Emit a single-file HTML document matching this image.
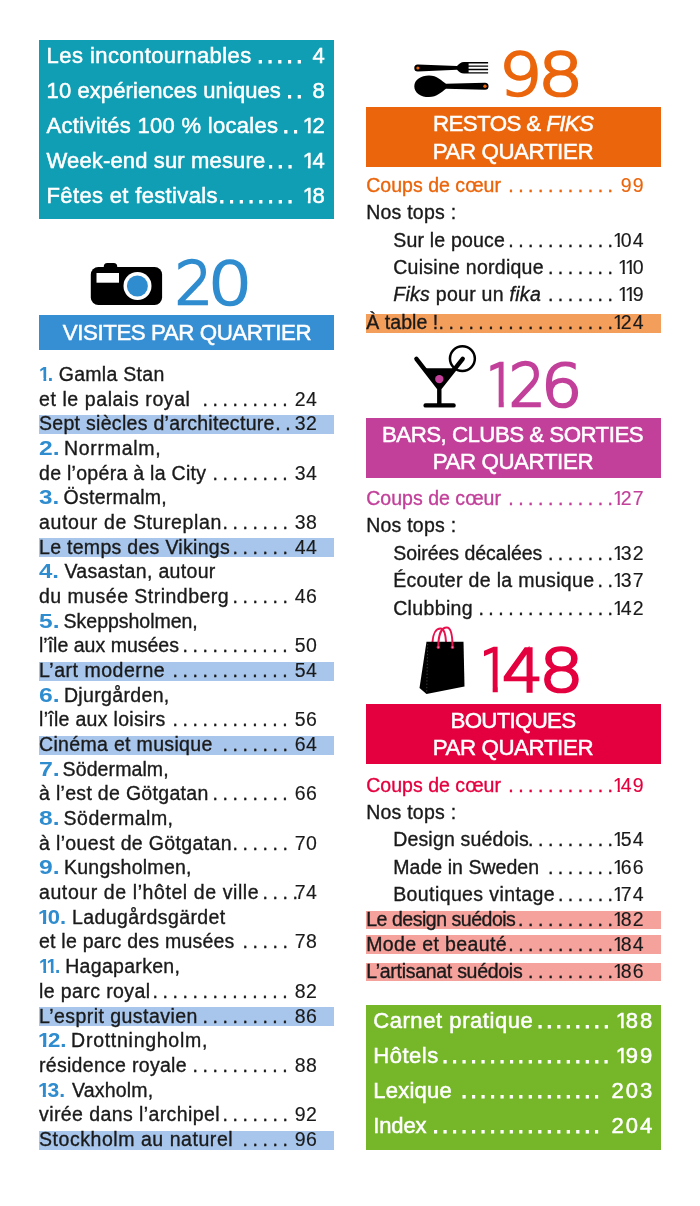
<!DOCTYPE html>
<html lang="fr"><head><meta charset="utf-8"><title>Sommaire</title>
<style>
html,body{margin:0;padding:0;background:#fff}
body{width:700px;height:1206px;position:relative;overflow:hidden;font-family:"Liberation Sans", sans-serif;color:#1a1a1a;-webkit-text-stroke:0.35px currentColor}
.abs,.box,.tx{position:absolute}
.tx{white-space:nowrap;margin:0}
.L,.R{font-size:19.5px;line-height:24px;height:24px}
.B{font-size:22.300px;line-height:28px;height:28px;color:#fff;-webkit-text-stroke:.5px #fff}
.T{font-size:22px;line-height:28px;height:28px;color:#fff;-webkit-text-stroke:.5px #fff}
.T.dt{-webkit-text-stroke:1px #fff}
.o,.ob{display:inline-block;line-height:1.2em;letter-spacing:0;vertical-align:baseline}
.o{width:.36em;text-indent:-.04em;clip-path:polygon(0 0,100% 0,100% .8em,.315em .8em,.315em 100%,.196em 100%,.196em .8em,0 .8em)}
.T .o{margin-right:.05em}
.ob{width:.40em;text-indent:-.05em;clip-path:polygon(0 0,100% 0,100% .78em,.325em .78em,.325em 100%,.18em 100%,.18em .78em,0 .78em)}
.nb{color:#2e8ccf;font-weight:bold;-webkit-text-stroke:0;transform-origin:0 50%}
.ban{position:absolute;color:#fff;text-align:center;white-space:nowrap}
.big{position:absolute;white-space:nowrap;font-family:"DejaVu Sans Light","DejaVu Sans",sans-serif;font-weight:200;font-size:59.3px;line-height:59.3px;height:59.3px;-webkit-text-stroke:2.6px currentColor;transform-origin:0 0;display:block}
</style></head><body>
<div class="box" style="left:39px;top:40px;width:295.200px;height:179px;background:#109eb4"></div>
<div class="box" style="left:39px;top:414.9px;width:295.200px;height:19px;background:#a8c6eb"></div>
<div class="box" style="left:39px;top:538.3px;width:295.200px;height:19px;background:#a8c6eb"></div>
<div class="box" style="left:39px;top:661.7px;width:295.200px;height:19px;background:#a8c6eb"></div>
<div class="box" style="left:39px;top:735.8px;width:295.200px;height:19px;background:#a8c6eb"></div>
<div class="box" style="left:39px;top:1007.2px;width:295.200px;height:19px;background:#a8c6eb"></div>
<div class="box" style="left:39px;top:1130.6px;width:295.200px;height:19px;background:#a8c6eb"></div>
<div class="box" style="left:366px;top:313.9px;width:295px;height:18.9px;background:#f49e5c"></div>
<div class="box" style="left:366px;top:910.7px;width:295px;height:18.5px;background:#f5a29c"></div>
<div class="box" style="left:366px;top:935.3px;width:295px;height:18.5px;background:#f5a29c"></div>
<div class="box" style="left:366px;top:962.6px;width:295px;height:18.8px;background:#f5a29c"></div>
<div class="box" style="left:365.600px;top:1005.100px;width:295.600px;height:144.600px;background:#76b72a"></div>
<div class="box" style="left:39px;top:315.3px;width:295.2px;height:34.8px;background:#378fd3"></div>
<div class="box" style="left:365.7px;top:107.1px;width:295.4px;height:60px;background:#ea650b"></div>
<div class="box" style="left:365.7px;top:417.9px;width:295.4px;height:59.7px;background:#c2409a"></div>
<div class="box" style="left:365.7px;top:703.6px;width:295.4px;height:60px;background:#e4003f"></div>
<span class="big" style="left:174.51px;top:253.83px;color:#2e8ccf;transform:scaleX(0.994);">2</span>
<span class="big" style="left:208.21px;top:253.83px;color:#2e8ccf;transform:scaleX(1.172);">0</span>
<span class="big" style="left:499.20px;top:44.73px;color:#ea650b;transform:scaleX(1.142);">9</span>
<span class="big" style="left:537.75px;top:44.73px;color:#ea650b;transform:scaleX(1.202);">8</span>
<span class="big" style="left:482.87px;top:356.13px;color:#c2409a;transform:scaleX(0.920);clip-path:polygon(7.96px 0,calc(.358em + 1.35px) 0,calc(.358em + 1.35px) 100%,calc(.31em - 1.35px) 100%,calc(.31em - 1.35px) .77em,7.96px .77em);">1</span>
<span class="big" style="left:508.70px;top:356.13px;color:#c2409a;transform:scaleX(0.961);">2</span>
<span class="big" style="left:541.11px;top:356.13px;color:#c2409a;transform:scaleX(1.095);">6</span>
<span class="big" style="left:477.07px;top:641.43px;color:#e4003f;transform:scaleX(0.920);clip-path:polygon(7.64px 0,calc(.358em + 1.35px) 0,calc(.358em + 1.35px) 100%,calc(.31em - 1.35px) 100%,calc(.31em - 1.35px) .77em,7.64px .77em);">1</span>
<span class="big" style="left:502.06px;top:641.43px;color:#e4003f;transform:scaleX(1.089);">4</span>
<span class="big" style="left:539.01px;top:641.43px;color:#e4003f;transform:scaleX(1.188);">8</span>
<svg class="abs" style="left:88px;top:258px" width="80" height="52" viewBox="88 258 80 52">
<path d="M103.800 269 v-2.600 q0-3.500 3.500-3.500 h6.400 q3.500 0 3.500 3.500 v2.600 z" fill="#000"/>
<rect x="90.800" y="267.100" width="71.300" height="37.900" rx="7.500" fill="#000"/>
<rect x="96.500" y="273" width="22.500" height="9.700" fill="#fff"/>
<circle cx="137.500" cy="286" r="14" fill="#fff"/>
<circle cx="137.400" cy="286" r="10.500" fill="#2e8ccf"/>
</svg>
<svg class="abs" style="left:410px;top:55px" width="84" height="48" viewBox="410 55 84 48">
<path d="M417.800 64.400 L457 66.100 C459 64 461 62.100 464 62.100 H488.100 V63.500 H468.600 V65.400 H488.100 V66.800 H468.600 V68.800 H488.100 V70.200 H468.600 V72.200 H488.100 V73.600 H464 C461 73.600 459 71.800 457 69.700 L417.800 71.500 A3.550 3.550 0 0 1 417.800 64.400 Z" fill="#000"/>
<circle cx="417.900" cy="68" r="1.600" fill="#ea650b"/>
<path d="M414.300 86.200 C414.300 79.500 421 75.400 429 75.400 C437 75.400 441.500 80.500 446 83.700 L485 82.700 A3.550 3.550 0 0 1 485 89.800 L446 88.800 C441.500 92 437 97.100 429 97.100 C421 97.100 414.300 93 414.300 86.200 Z" fill="#000"/>
<circle cx="485" cy="86.200" r="1.700" fill="#ea650b"/>
</svg>
<svg class="abs" style="left:410px;top:340px" width="72" height="72" viewBox="410 340 72 72">
<circle cx="462.400" cy="358.600" r="12.450" fill="#fff" stroke="#000" stroke-width="2.500"/>
<path d="M424.300 368.300 h30.200 l-15.200 19z" fill="#000"/>
<path d="M416.400 358.800 L439.300 388.300 L462.700 358.800 M439.300 388 V404 M425.600 405.400 H453.600" fill="none" stroke="#000" stroke-width="4.400" stroke-linecap="round" stroke-linejoin="round"/>
<circle cx="439.300" cy="379.100" r="4.200" fill="#c2409a"/>
</svg>
<svg class="abs" style="left:414px;top:622px" width="60" height="76" viewBox="414 622 60 76">
<path d="M432.500 642 C433 634 436 628.600 440.500 628.600 C444 628.600 445.500 634 446 642" stroke="#e8114e" stroke-width="2" fill="none"/>
<path d="M426.500 641.800 H463.500 L464.500 686.500 L426.500 694 L419.500 688z" fill="#000"/>
<path d="M427.700 644 L426.700 692" stroke="#444" stroke-width=".9" stroke-dasharray="1.300 2" fill="none"/>
<path d="M438.300 647 C438.300 636 441 627.600 446.800 627.600 C451.500 627.600 452.500 637 452.500 647" stroke="#e8114e" stroke-width="2" fill="none"/>
<circle cx="438.300" cy="647.200" r="1.300" fill="#f7a" stroke="#e8114e" stroke-width=".9"/>
<circle cx="452.500" cy="647.200" r="1.300" fill="#f7a" stroke="#e8114e" stroke-width=".9"/>
</svg>
<div class="tx T" style="left:46.6px;top:41.8px;letter-spacing:0.43px;">Les incontournables</div>
<div class="tx T dt" style="left:257.3px;top:41.8px;letter-spacing:3.64px;">.....</div>
<div class="tx T" style="right:375.2px;top:41.8px;letter-spacing:2.09px;margin-right:-2.09px;">4</div>
<div class="tx T" style="left:46.6px;top:76.8px;letter-spacing:0.09px;">10 expériences uniques</div>
<div class="tx T dt" style="left:286.6px;top:76.8px;letter-spacing:3.64px;">..</div>
<div class="tx T" style="right:375.2px;top:76.8px;letter-spacing:2.09px;margin-right:-2.09px;">8</div>
<div class="tx T" style="left:46.6px;top:111.9px;letter-spacing:0.29px;">Activités 100 % locales</div>
<div class="tx T dt" style="left:282.7px;top:111.9px;letter-spacing:3.64px;">..</div>
<div class="tx T" style="right:375.2px;top:111.9px;letter-spacing:2.09px;margin-right:-2.09px;"><span class="o">1</span>2</div>
<div class="tx T" style="left:46.6px;top:146.9px;letter-spacing:0.14px;">Week-end sur mesure</div>
<div class="tx T dt" style="left:267.6px;top:146.9px;letter-spacing:3.64px;">...</div>
<div class="tx T" style="right:375.2px;top:146.9px;letter-spacing:2.09px;margin-right:-2.09px;"><span class="o">1</span>4</div>
<div class="tx T" style="left:46.6px;top:182.0px;letter-spacing:0.34px;">Fêtes et festivals</div>
<div class="tx T dt" style="left:218.8px;top:182.0px;letter-spacing:3.64px;">........</div>
<div class="tx T" style="right:375.2px;top:182.0px;letter-spacing:2.09px;margin-right:-2.09px;"><span class="o">1</span>8</div>
<div class="tx L nb" style="left:39.5px;top:361.8px;transform:scaleX(0.989);"><span class="ob">1</span>.</div>
<div class="tx L" style="left:58.7px;top:361.8px;letter-spacing:0.29px;">Gamla Stan</div>
<div class="tx L" style="left:39.0px;top:386.5px;letter-spacing:0.59px;">et le palais royal</div>
<div class="tx L dt" style="left:202.4px;top:386.5px;letter-spacing:4.58px;">.........</div>
<div class="tx L" style="right:383.1px;top:386.5px;letter-spacing:0.39px;margin-right:-0.39px;-webkit-text-stroke-width:.15px;">24</div>
<div class="tx L" style="left:39.0px;top:411.2px;letter-spacing:0.30px;">Sept siècles d’architecture</div>
<div class="tx L dt" style="left:275.3px;top:411.2px;letter-spacing:4.58px;">..</div>
<div class="tx L" style="right:383.1px;top:411.2px;letter-spacing:0.39px;margin-right:-0.39px;-webkit-text-stroke-width:.15px;">32</div>
<div class="tx L nb" style="left:38.9px;top:435.8px;transform:scaleX(1.264);">2.</div>
<div class="tx L" style="left:63.9px;top:435.8px;letter-spacing:0.73px;">Norrmalm,</div>
<div class="tx L" style="left:39.0px;top:460.5px;letter-spacing:0.29px;">de l’opéra à la City</div>
<div class="tx L dt" style="left:212.4px;top:460.5px;letter-spacing:4.58px;">........</div>
<div class="tx L" style="right:383.1px;top:460.5px;letter-spacing:0.39px;margin-right:-0.39px;-webkit-text-stroke-width:.15px;">34</div>
<div class="tx L nb" style="left:39.2px;top:485.2px;transform:scaleX(1.244);">3.</div>
<div class="tx L" style="left:63.6px;top:485.2px;letter-spacing:0.27px;">Östermalm,</div>
<div class="tx L" style="left:39.0px;top:509.9px;letter-spacing:0.61px;">autour de Stureplan</div>
<div class="tx L dt" style="left:222.4px;top:509.9px;letter-spacing:4.58px;">.......</div>
<div class="tx L" style="right:383.1px;top:509.9px;letter-spacing:0.39px;margin-right:-0.39px;-webkit-text-stroke-width:.15px;">38</div>
<div class="tx L" style="left:39.0px;top:534.6px;letter-spacing:0.30px;">Le temps des Vikings</div>
<div class="tx L dt" style="left:232.4px;top:534.6px;letter-spacing:4.58px;">......</div>
<div class="tx L" style="right:383.1px;top:534.6px;letter-spacing:0.39px;margin-right:-0.39px;-webkit-text-stroke-width:.15px;">44</div>
<div class="tx L nb" style="left:39.4px;top:559.2px;transform:scaleX(1.231);">4.</div>
<div class="tx L" style="left:64.4px;top:559.2px;letter-spacing:0.33px;">Vasastan, autour</div>
<div class="tx L" style="left:39.0px;top:583.9px;letter-spacing:0.48px;">du musée Strindberg</div>
<div class="tx L dt" style="left:232.4px;top:583.9px;letter-spacing:4.58px;">......</div>
<div class="tx L" style="right:383.1px;top:583.9px;letter-spacing:0.39px;margin-right:-0.39px;-webkit-text-stroke-width:.15px;">46</div>
<div class="tx L nb" style="left:39.0px;top:608.6px;transform:scaleX(1.257);">5.</div>
<div class="tx L" style="left:63.6px;top:608.6px;letter-spacing:-0.02px;">Skeppsholmen,</div>
<div class="tx L" style="left:39.0px;top:633.3px;letter-spacing:0.01px;">l’île aux musées</div>
<div class="tx L dt" style="left:182.4px;top:633.3px;letter-spacing:4.58px;">...........</div>
<div class="tx L" style="right:383.1px;top:633.3px;letter-spacing:0.39px;margin-right:-0.39px;-webkit-text-stroke-width:.15px;">50</div>
<div class="tx L" style="left:39.0px;top:658.0px;letter-spacing:0.53px;">L’art moderne</div>
<div class="tx L dt" style="left:172.4px;top:658.0px;letter-spacing:4.58px;">............</div>
<div class="tx L" style="right:383.1px;top:658.0px;letter-spacing:0.39px;margin-right:-0.39px;-webkit-text-stroke-width:.15px;">54</div>
<div class="tx L nb" style="left:38.9px;top:682.6px;transform:scaleX(1.267);">6.</div>
<div class="tx L" style="left:63.9px;top:682.6px;letter-spacing:0.35px;">Djurgården,</div>
<div class="tx L" style="left:39.0px;top:707.3px;letter-spacing:0.30px;">l’île aux loisirs</div>
<div class="tx L dt" style="left:172.4px;top:707.3px;letter-spacing:4.58px;">............</div>
<div class="tx L" style="right:383.1px;top:707.3px;letter-spacing:0.39px;margin-right:-0.39px;-webkit-text-stroke-width:.15px;">56</div>
<div class="tx L" style="left:39.0px;top:732.0px;letter-spacing:0.33px;">Cinéma et musique</div>
<div class="tx L dt" style="left:222.4px;top:732.0px;letter-spacing:4.58px;">.......</div>
<div class="tx L" style="right:383.1px;top:732.0px;letter-spacing:0.39px;margin-right:-0.39px;-webkit-text-stroke-width:.15px;">64</div>
<div class="tx L nb" style="left:38.7px;top:756.7px;transform:scaleX(1.278);">7.</div>
<div class="tx L" style="left:62.6px;top:756.7px;letter-spacing:0.10px;">Södermalm,</div>
<div class="tx L" style="left:39.0px;top:781.4px;letter-spacing:0.31px;">à l’est de Götgatan</div>
<div class="tx L dt" style="left:212.4px;top:781.4px;letter-spacing:4.58px;">........</div>
<div class="tx L" style="right:383.1px;top:781.4px;letter-spacing:0.39px;margin-right:-0.39px;-webkit-text-stroke-width:.15px;">66</div>
<div class="tx L nb" style="left:39.0px;top:806.0px;transform:scaleX(1.259);">8.</div>
<div class="tx L" style="left:63.6px;top:806.0px;letter-spacing:0.48px;">Södermalm,</div>
<div class="tx L" style="left:39.0px;top:830.7px;letter-spacing:0.36px;">à l’ouest de Götgatan</div>
<div class="tx L dt" style="left:232.4px;top:830.7px;letter-spacing:4.58px;">......</div>
<div class="tx L" style="right:383.1px;top:830.7px;letter-spacing:0.39px;margin-right:-0.39px;-webkit-text-stroke-width:.15px;">70</div>
<div class="tx L nb" style="left:38.9px;top:855.4px;transform:scaleX(1.264);">9.</div>
<div class="tx L" style="left:63.9px;top:855.4px;letter-spacing:0.27px;">Kungsholmen,</div>
<div class="tx L" style="left:39.0px;top:880.1px;letter-spacing:0.59px;">autour de l’hôtel de ville</div>
<div class="tx L dt" style="left:262.4px;top:880.1px;letter-spacing:4.58px;">....</div>
<div class="tx L" style="right:383.1px;top:880.1px;letter-spacing:0.39px;margin-right:-0.39px;-webkit-text-stroke-width:.15px;">74</div>
<div class="tx L nb" style="left:39.4px;top:904.8px;transform:scaleX(1.126);"><span class="ob">1</span>0.</div>
<div class="tx L" style="left:72.1px;top:904.8px;letter-spacing:0.41px;">Ladugårdsgärdet</div>
<div class="tx L" style="left:39.0px;top:929.4px;letter-spacing:0.23px;">et le parc des musées</div>
<div class="tx L dt" style="left:242.4px;top:929.4px;letter-spacing:4.58px;">.....</div>
<div class="tx L" style="right:383.1px;top:929.4px;letter-spacing:0.39px;margin-right:-0.39px;-webkit-text-stroke-width:.15px;">78</div>
<div class="tx L nb" style="left:39.5px;top:954.1px;transform:scaleX(0.963);"><span class="ob">1</span><span class="ob">1</span>.</div>
<div class="tx L" style="left:65.2px;top:954.1px;letter-spacing:0.31px;">Hagaparken,</div>
<div class="tx L" style="left:39.0px;top:978.8px;letter-spacing:0.40px;">le parc royal</div>
<div class="tx L dt" style="left:152.4px;top:978.8px;letter-spacing:4.58px;">..............</div>
<div class="tx L" style="right:383.1px;top:978.8px;letter-spacing:0.39px;margin-right:-0.39px;-webkit-text-stroke-width:.15px;">82</div>
<div class="tx L" style="left:39.0px;top:1003.5px;letter-spacing:0.45px;">L’esprit gustavien</div>
<div class="tx L dt" style="left:202.4px;top:1003.5px;letter-spacing:4.58px;">.........</div>
<div class="tx L" style="right:383.1px;top:1003.5px;letter-spacing:0.39px;margin-right:-0.39px;-webkit-text-stroke-width:.15px;">86</div>
<div class="tx L nb" style="left:39.4px;top:1028.2px;transform:scaleX(1.144);"><span class="ob">1</span>2.</div>
<div class="tx L" style="left:71.1px;top:1028.2px;letter-spacing:0.73px;">Drottningholm,</div>
<div class="tx L" style="left:39.0px;top:1052.8px;letter-spacing:0.30px;">résidence royale</div>
<div class="tx L dt" style="left:192.4px;top:1052.8px;letter-spacing:4.58px;">..........</div>
<div class="tx L" style="right:383.1px;top:1052.8px;letter-spacing:0.39px;margin-right:-0.39px;-webkit-text-stroke-width:.15px;">88</div>
<div class="tx L nb" style="left:39.4px;top:1077.5px;transform:scaleX(1.082);"><span class="ob">1</span>3.</div>
<div class="tx L" style="left:71.9px;top:1077.5px;letter-spacing:0.20px;">Vaxholm,</div>
<div class="tx L" style="left:39.0px;top:1102.2px;letter-spacing:0.41px;">virée dans l’archipel</div>
<div class="tx L dt" style="left:222.4px;top:1102.2px;letter-spacing:4.58px;">.......</div>
<div class="tx L" style="right:383.1px;top:1102.2px;letter-spacing:0.39px;margin-right:-0.39px;-webkit-text-stroke-width:.15px;">92</div>
<div class="tx L" style="left:39.0px;top:1126.9px;letter-spacing:0.55px;">Stockholm au naturel</div>
<div class="tx L dt" style="left:242.4px;top:1126.9px;letter-spacing:4.58px;">.....</div>
<div class="tx L" style="right:383.1px;top:1126.9px;letter-spacing:0.39px;margin-right:-0.39px;-webkit-text-stroke-width:.15px;">96</div>
<div class="tx R" style="left:366.2px;top:172.6px;color:#ea650b;letter-spacing:0.03px;">Coups de cœur</div>
<div class="tx R dt" style="left:508.2px;top:172.6px;letter-spacing:4.52px;color:#ea650b;">...........</div>
<div class="tx R" style="right:56.4px;top:172.6px;letter-spacing:1.17px;margin-right:-1.17px;-webkit-text-stroke-width:.15px;color:#ea650b;">99</div>
<div class="tx R" style="left:366.2px;top:200.1px;letter-spacing:0.23px;">Nos tops :</div>
<div class="tx R" style="left:393.2px;top:227.5px;letter-spacing:0.20px;">Sur le pouce</div>
<div class="tx R dt" style="left:508.2px;top:227.5px;letter-spacing:4.52px;">...........</div>
<div class="tx R" style="right:56.4px;top:227.5px;letter-spacing:1.17px;margin-right:-1.17px;-webkit-text-stroke-width:.15px;"><span class="o">1</span>04</div>
<div class="tx R" style="left:393.2px;top:254.9px;letter-spacing:0.27px;">Cuisine nordique</div>
<div class="tx R dt" style="left:547.9px;top:254.9px;letter-spacing:4.52px;">.......</div>
<div class="tx R" style="right:56.4px;top:254.9px;letter-spacing:1.17px;margin-right:-1.17px;-webkit-text-stroke-width:.15px;"><span class="o">1</span><span class="o">1</span>0</div>
<div class="tx R" style="left:393.2px;top:282.3px;letter-spacing:0.28px;"><i>Fiks</i> pour un <i>fika</i></div>
<div class="tx R dt" style="left:547.9px;top:282.3px;letter-spacing:4.52px;">.......</div>
<div class="tx R" style="right:56.4px;top:282.3px;letter-spacing:1.17px;margin-right:-1.17px;-webkit-text-stroke-width:.15px;"><span class="o">1</span><span class="o">1</span>9</div>
<div class="tx R" style="left:366.2px;top:309.7px;letter-spacing:0.07px;">À table !</div>
<div class="tx R dt" style="left:438.6px;top:309.7px;letter-spacing:4.52px;">..................</div>
<div class="tx R" style="right:56.4px;top:309.7px;letter-spacing:1.17px;margin-right:-1.17px;-webkit-text-stroke-width:.15px;"><span class="o">1</span>24</div>
<div class="tx R" style="left:366.2px;top:485.9px;color:#c2409a;letter-spacing:0.03px;">Coups de cœur</div>
<div class="tx R dt" style="left:508.2px;top:485.9px;letter-spacing:4.52px;color:#c2409a;">...........</div>
<div class="tx R" style="right:56.4px;top:485.9px;letter-spacing:1.17px;margin-right:-1.17px;-webkit-text-stroke-width:.15px;color:#c2409a;"><span class="o">1</span>27</div>
<div class="tx R" style="left:366.2px;top:513.4px;letter-spacing:0.23px;">Nos tops :</div>
<div class="tx R" style="left:393.2px;top:540.8px;letter-spacing:-0.03px;">Soirées décalées</div>
<div class="tx R dt" style="left:547.9px;top:540.8px;letter-spacing:4.52px;">.......</div>
<div class="tx R" style="right:56.4px;top:540.8px;letter-spacing:1.17px;margin-right:-1.17px;-webkit-text-stroke-width:.15px;"><span class="o">1</span>32</div>
<div class="tx R" style="left:393.2px;top:568.2px;letter-spacing:0.34px;">Écouter de la musique</div>
<div class="tx R dt" style="left:597.6px;top:568.2px;letter-spacing:4.52px;">..</div>
<div class="tx R" style="right:56.4px;top:568.2px;letter-spacing:1.17px;margin-right:-1.17px;-webkit-text-stroke-width:.15px;"><span class="o">1</span>37</div>
<div class="tx R" style="left:393.2px;top:595.6px;letter-spacing:0.35px;">Clubbing</div>
<div class="tx R dt" style="left:478.4px;top:595.6px;letter-spacing:4.52px;">..............</div>
<div class="tx R" style="right:56.4px;top:595.6px;letter-spacing:1.17px;margin-right:-1.17px;-webkit-text-stroke-width:.15px;"><span class="o">1</span>42</div>
<div class="tx R" style="left:366.2px;top:772.6px;color:#e4003f;letter-spacing:0.03px;">Coups de cœur</div>
<div class="tx R dt" style="left:508.2px;top:772.6px;letter-spacing:4.52px;color:#e4003f;">...........</div>
<div class="tx R" style="right:56.4px;top:772.6px;letter-spacing:1.17px;margin-right:-1.17px;-webkit-text-stroke-width:.15px;color:#e4003f;"><span class="o">1</span>49</div>
<div class="tx R" style="left:366.2px;top:800.0px;letter-spacing:0.23px;">Nos tops :</div>
<div class="tx R" style="left:393.2px;top:827.3px;letter-spacing:0.17px;">Design suédois</div>
<div class="tx R dt" style="left:528.1px;top:827.3px;letter-spacing:4.52px;">.........</div>
<div class="tx R" style="right:56.4px;top:827.3px;letter-spacing:1.17px;margin-right:-1.17px;-webkit-text-stroke-width:.15px;"><span class="o">1</span>54</div>
<div class="tx R" style="left:393.2px;top:854.6px;letter-spacing:0.05px;">Made in Sweden</div>
<div class="tx R dt" style="left:547.9px;top:854.6px;letter-spacing:4.52px;">.......</div>
<div class="tx R" style="right:56.4px;top:854.6px;letter-spacing:1.17px;margin-right:-1.17px;-webkit-text-stroke-width:.15px;"><span class="o">1</span>66</div>
<div class="tx R" style="left:393.2px;top:882.0px;letter-spacing:0.40px;">Boutiques vintage</div>
<div class="tx R dt" style="left:557.9px;top:882.0px;letter-spacing:4.52px;">......</div>
<div class="tx R" style="right:56.4px;top:882.0px;letter-spacing:1.17px;margin-right:-1.17px;-webkit-text-stroke-width:.15px;"><span class="o">1</span>74</div>
<div class="tx R" style="left:366.2px;top:906.9px;letter-spacing:-0.47px;">Le design suédois</div>
<div class="tx R dt" style="left:518.1px;top:906.9px;letter-spacing:4.52px;">..........</div>
<div class="tx R" style="right:56.4px;top:906.9px;letter-spacing:1.17px;margin-right:-1.17px;-webkit-text-stroke-width:.15px;"><span class="o">1</span>82</div>
<div class="tx R" style="left:366.2px;top:931.8px;letter-spacing:0.37px;">Mode et beauté</div>
<div class="tx R dt" style="left:508.2px;top:931.8px;letter-spacing:4.52px;">...........</div>
<div class="tx R" style="right:56.4px;top:931.8px;letter-spacing:1.17px;margin-right:-1.17px;-webkit-text-stroke-width:.15px;"><span class="o">1</span>84</div>
<div class="tx R" style="left:366.2px;top:959.1px;letter-spacing:-0.28px;">L’artisanat suédois</div>
<div class="tx R dt" style="left:528.1px;top:959.1px;letter-spacing:4.52px;">.........</div>
<div class="tx R" style="right:56.4px;top:959.1px;letter-spacing:1.17px;margin-right:-1.17px;-webkit-text-stroke-width:.15px;"><span class="o">1</span>86</div>
<div class="tx T" style="left:373.2px;top:1007.0px;letter-spacing:0.57px;">Carnet pratique</div>
<div class="tx T dt" style="left:536.9px;top:1007.0px;letter-spacing:3.36px;">........</div>
<div class="tx T" style="right:47.7px;top:1007.0px;letter-spacing:2.09px;margin-right:-2.09px;"><span class="o">1</span>88</div>
<div class="tx T" style="left:373.2px;top:1042.1px;letter-spacing:0.55px;">Hôtels</div>
<div class="tx T dt" style="left:442.1px;top:1042.1px;letter-spacing:3.36px;">..................</div>
<div class="tx T" style="right:47.7px;top:1042.1px;letter-spacing:2.09px;margin-right:-2.09px;"><span class="o">1</span>99</div>
<div class="tx T" style="left:373.2px;top:1077.3px;letter-spacing:0.25px;">Lexique</div>
<div class="tx T dt" style="left:461.0px;top:1077.3px;letter-spacing:3.36px;">...............</div>
<div class="tx T" style="right:47.7px;top:1077.3px;letter-spacing:2.09px;margin-right:-2.09px;">203</div>
<div class="tx T" style="left:373.2px;top:1112.4px;letter-spacing:-0.10px;">Index</div>
<div class="tx T dt" style="left:432.6px;top:1112.4px;letter-spacing:3.36px;">..................</div>
<div class="tx T" style="right:47.7px;top:1112.4px;letter-spacing:2.09px;margin-right:-2.09px;">204</div>
<div class="tx B" style="left:62.8px;top:318.9px;letter-spacing:-0.43px;">VISITES PAR QUARTIER</div>
<div class="tx B" style="left:433.0px;top:110.4px;letter-spacing:-0.60px;">RESTOS &amp; <i>FIKS</i></div>
<div class="tx B" style="left:432.7px;top:137.6px;letter-spacing:-0.40px;">PAR QUARTIER</div>
<div class="tx B" style="left:382.0px;top:420.8px;letter-spacing:-0.53px;">BARS, CLUBS &amp; SORTIES</div>
<div class="tx B" style="left:432.7px;top:448.3px;letter-spacing:-0.40px;">PAR QUARTIER</div>
<div class="tx B" style="left:450.5px;top:706.6px;letter-spacing:-0.72px;">BOUTIQUES</div>
<div class="tx B" style="left:432.7px;top:734.3px;letter-spacing:-0.40px;">PAR QUARTIER</div>
</body></html>
